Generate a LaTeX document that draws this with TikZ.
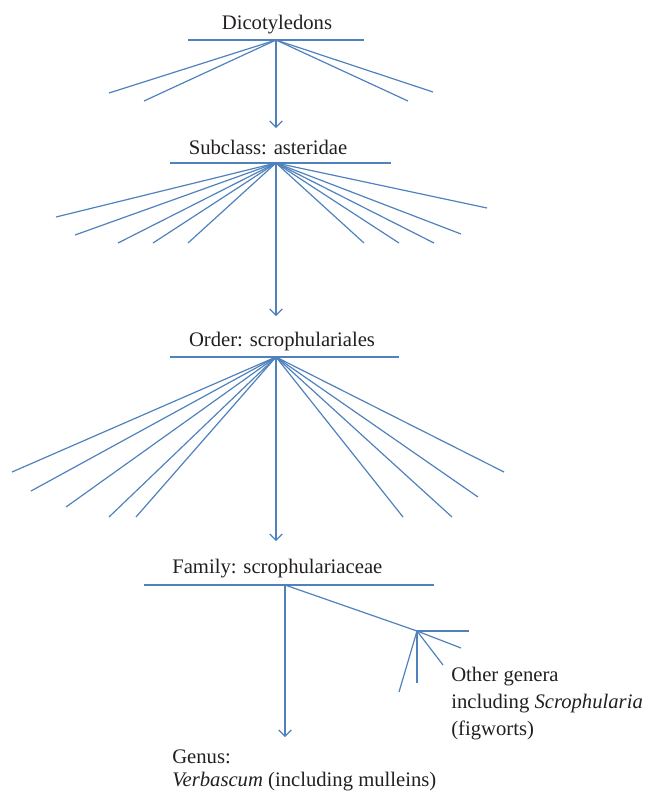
\documentclass[tikz,border=0pt]{standalone}
\usepackage{fontspec}
\setmainfont{Liberation Serif}
\usetikzlibrary{arrows.meta,graphs,positioning}
\definecolor{rayblue}{RGB}{79,129,189}
\definecolor{inkgrey}{RGB}{35,31,32}
\tikzset{
    >={Straight Barb[length=4.5pt,width=9pt]},
    ray/.style={draw=rayblue, line width=0.85pt},
    rank/.style={inner sep=0pt, text=inkgrey, font=\fontsize{14.7}{19}\selectfont},
}

\begin{document}
\begin{tikzpicture}[x=0.025cm,y=-0.025cm]
            \useasboundingbox (0,0) rectangle (646,791) ;

            \node[rank,anchor=base] (dico) at (277,29) {Dicotyledons} ;
            \node[rank,anchor=base] (subcl) at (268,154) {Subclass: asteridae} ;
            \node[rank,anchor=base] (order) at (282,346) {Order: scrophulariales} ;
            \node[rank,anchor=base west] (family) at (172,573) {Family: scrophulariaceae} ;
            \node[rank,anchor=base west] (oth1) at (451,681) {Other genera} ;
            \node[rank,anchor=base west] (oth2) at ([yshift=-19.2pt]oth1.base west) {including \textit{Scrophularia}} ;
            \node[rank,anchor=base west] (oth3) at ([yshift=-19.2pt]oth2.base west) {(figworts)} ;
            \node[rank,anchor=base west] (genus1) at (172,763) {Genus:} ;
            \node[rank,anchor=base west] (genus2) at ([yshift=-16.4pt]genus1.base west) {\textit{Verbascum} (including mulleins)} ;

            \path (276,40) coordinate (dhub) (188,40) coordinate (dL) (364,40) coordinate (dR)
                  (109,93) coordinate (d1) (144,101) coordinate (d2)
                  (408,101) coordinate (d3) (433,92) coordinate (d4)
                  (276,128) coordinate (dend) ;
            \path (276,163) coordinate (shub) (170,163) coordinate (sL) (391,163) coordinate (sR)
                  (56,217) coordinate (s1) (75,235) coordinate (s2) (118,243) coordinate (s3)
                  (153,243) coordinate (s4) (188,243) coordinate (s5) (364,243) coordinate (s6)
                  (399,243) coordinate (s7) (434,243) coordinate (s8) (461,234) coordinate (s9)
                  (487,208) coordinate (s10)
                  (276,316) coordinate (send) ;
            \path (276,357) coordinate (ohub) (170,357) coordinate (oL) (399,357) coordinate (oR)
                  (12,472) coordinate (o1) (31,491) coordinate (o2) (66,507) coordinate (o3)
                  (109,517) coordinate (o4) (136,517) coordinate (o5) (403,517) coordinate (o6)
                  (452,517) coordinate (o7) (478,497) coordinate (o8) (504,472) coordinate (o9)
                  (276,541) coordinate (oend) ;
            \path (285,585) coordinate (fhub) (144,585) coordinate (fL) (434,585) coordinate (fR)
                  (417,631) coordinate (ghub)
                  (469,631) coordinate (g1) (461,648) coordinate (g2) (443,665) coordinate (g3)
                  (417,683) coordinate (g4) (399,692) coordinate (g5)
                  (285,737) coordinate (fend) ;

            \graph[use existing nodes, edges={ray}] {
                dL -- dR ;
                dhub -- {d1, d2, d3, d4} ;
                dhub -> dend ;
                sL -- sR ;
                shub -- {s1, s2, s3, s4, s5, s6, s7, s8, s9, s10} ;
                shub -> send ;
                oL -- oR ;
                ohub -- {o1, o2, o3, o4, o5, o6, o7, o8, o9} ;
                ohub -> oend ;
                fL -- fR ;
                fhub -- ghub -- {g1, g2, g3, g4, g5} ;
                fhub -> fend ;
            } ;
        \end{tikzpicture}
\end{document}
